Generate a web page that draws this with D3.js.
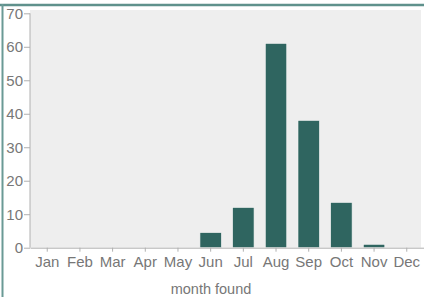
<!DOCTYPE html>
<html><head><meta charset="utf-8">
<script src="https://cdn.jsdelivr.net/npm/d3@7"></script>
<style>body{margin:0;background:#fff}svg{display:block}</style>
</head><body>
<svg id="c" width="424" height="297"></svg>
<script>
const months = ["Jan","Feb","Mar","Apr","May","Jun","Jul","Aug","Sep","Oct","Nov","Dec"];
const counts = [0,0,0,0,0,4.5,12,61,38,13.5,1,0];
const yTicks = [0,10,20,30,40,50,60,70];

const svg = d3.select("#c");
const W = 424, H = 297;
const m = {l:30, r:0, t:13.3, b:49.3};
const font = "'Liberation Sans', Arial, Helvetica, sans-serif";

// frame
svg.append("line").attr("x1",0).attr("x2",W).attr("y1",5).attr("y2",5)
  .attr("stroke","#5f918c").attr("stroke-width",2.5);
svg.append("line").attr("x1",2.5).attr("x2",2.5).attr("y1",4).attr("y2",H)
  .attr("stroke","#6a9a95").attr("stroke-width",2);

const x = d3.scaleBand().domain(months).range([m.l, W]).paddingInner(0.345).paddingOuter(0.2);
const y = d3.scaleLinear().domain([0,70]).range([H-m.b, m.t]);

// plot background
svg.append("rect").attr("x",m.l).attr("y",10).attr("width",421-m.l).attr("height",y(0)-10)
  .attr("fill","#eeeeee");

svg.selectAll("rect.bar").data(months).join("rect").attr("class","bar")
  .attr("x",d=>x(d)).attr("width",x.bandwidth())
  .attr("y",(d,i)=>y(counts[i])).attr("height",(d,i)=>y(0)-y(counts[i]))
  .attr("fill","#2f6560").attr("stroke","#f4f4f4").attr("stroke-width",0.6);

const yAxis = svg.append("g").attr("transform",`translate(${m.l},0)`)
  .call(d3.axisLeft(y).tickValues(yTicks).tickSize(6).tickPadding(1));
const xAxis = svg.append("g").attr("transform",`translate(0,${y(0)})`)
  .call(d3.axisBottom(x).tickSize(4).tickPadding(5).tickSizeOuter(0));

[yAxis,xAxis].forEach(g=>{
  g.select(".domain").attr("stroke","#b0b0b0");
  g.selectAll(".tick line").attr("stroke","#b0b0b0");
  g.selectAll("text").attr("fill","#777").style("font-family",font).style("font-size","15px");
});
yAxis.select(".domain").attr("d",`M-0,${y(70)}V${y(0)}`);

svg.append("text").attr("x",211).attr("y",293.5).attr("text-anchor","middle")
  .attr("fill","#777").style("font-family",font).style("font-size","14.5px")
  .text("month found");
</script>
</body></html>
